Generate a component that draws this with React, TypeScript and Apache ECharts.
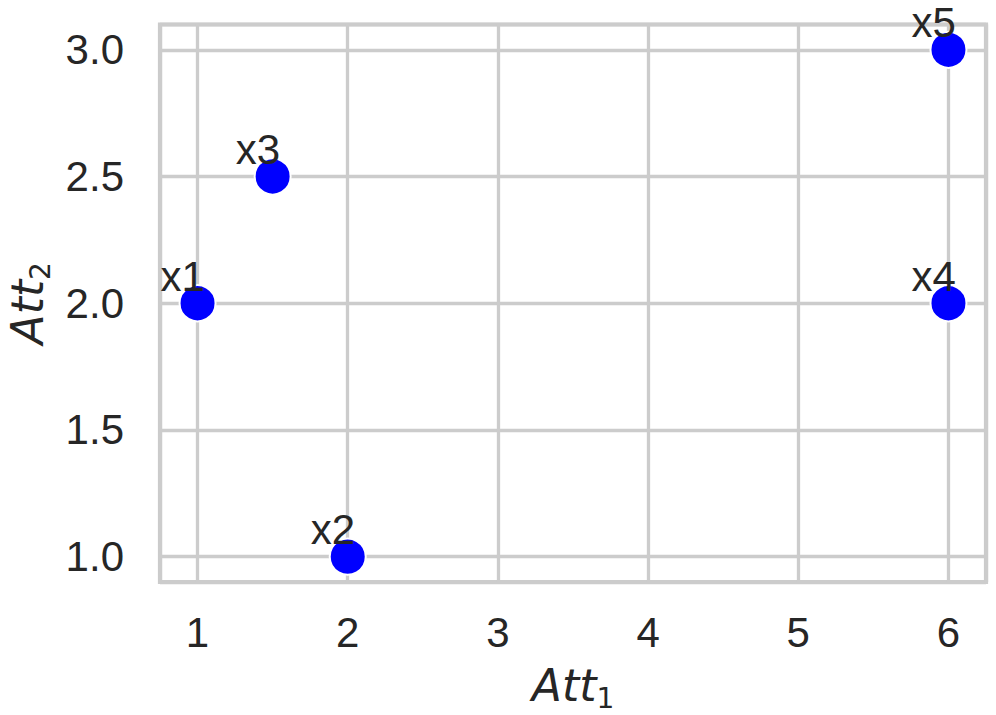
import React, { useEffect, useRef } from "react";
import * as echarts from "echarts";

const pointNames = ["x1", "x2", "x3", "x4", "x5"];
const att1Values = [1, 2, 1.5, 6, 6];
const att2Values = [2, 1, 2.5, 2, 3];
const xRange = [0.75, 6.25];
const yRange = [0.9, 3.1];

const TEXT = "#262626";
const GRID = "#cccccc";

export default function App() {
  const ref = useRef<HTMLDivElement>(null);
  useEffect(() => {
    if (!ref.current) return;
    const chart = echarts.init(ref.current, undefined, { renderer: "svg" });
    const data = pointNames.map((n, i) => ({ name: n, value: [att1Values[i], att2Values[i]] }));
    const nameRich = {
      a: { fontFamily: "DejaVu Sans", fontStyle: "italic", fontSize: 44, lineHeight: 44, color: TEXT },
      b: { fontFamily: "DejaVu Sans", fontSize: 28, lineHeight: 28, padding: [27, 0, 0, 0], color: TEXT },
    };
    chart.setOption({
      animation: false,
      backgroundColor: "#ffffff",
      grid: {
        left: 160,
        right: 10,
        top: 24.5,
        bottom: 133,
        containLabel: false,
        outerBoundsMode: "none",
        show: true,
        borderColor: GRID,
        borderWidth: 4.2,
        backgroundColor: "transparent",
      },
      xAxis: {
        type: "value",
        min: xRange[0],
        max: xRange[1],
        splitNumber: 5,
        axisLine: { show: false },
        axisTick: { show: false },
        splitLine: { show: true, lineStyle: { color: GRID, width: 3.3 } },
        axisLabel: {
          showMinLabel: false,
          showMaxLabel: false,
          margin: 29,
          fontFamily: "Liberation Sans",
          fontSize: 42,
          color: TEXT,
        },
        name: "{a|Att}{b|1}",
        nameLocation: "middle",
        nameGap: 77,
        nameTextStyle: { rich: nameRich },
      },
      yAxis: {
        type: "value",
        min: yRange[0],
        max: yRange[1],
        splitNumber: 5,
        axisLine: { show: false },
        axisTick: { show: false },
        splitLine: { show: true, lineStyle: { color: GRID, width: 3.3 } },
        axisLabel: {
          showMinLabel: false,
          showMaxLabel: false,
          margin: 36,
          fontFamily: "Liberation Sans",
          fontSize: 42,
          color: TEXT,
          formatter: (v: number) => v.toFixed(1),
        },
        name: "{a|Att}{b|2}",
        nameLocation: "middle",
        nameGap: 106,
        nameTextStyle: { rich: nameRich },
      },
      series: [
        {
          type: "scatter",
          data,
          symbol: "circle",
          symbolSize: 36,
          itemStyle: { color: "#0000ff", borderColor: "#ffffff", borderWidth: 2, opacity: 1 },
          label: {
            show: true,
            position: "inside",
            formatter: (p: any) => p.name,
            align: "left",
            verticalAlign: "middle",
            offset: [-37, -27],
            fontFamily: "Liberation Sans",
            fontSize: 42,
            color: TEXT,
            opacity: 1,
          },
          z: 3,
        },
      ],
    });
    return () => chart.dispose();
  }, []);
  return <div ref={ref} style={{ width: 996, height: 715, position: "absolute", left: 0, top: 0 }} />;
}
